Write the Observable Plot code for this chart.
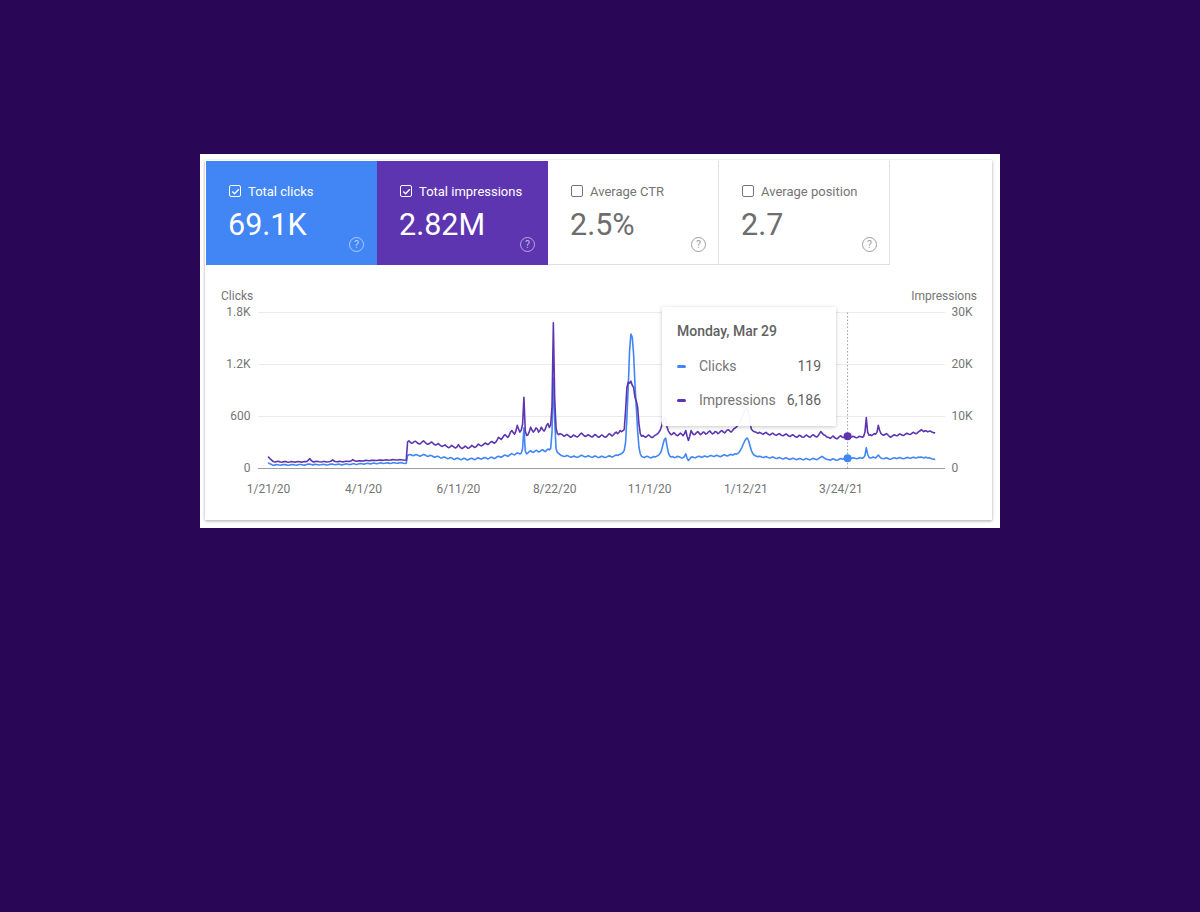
<!DOCTYPE html>
<html>
<head>
<meta charset="utf-8">
<script src="https://cdn.jsdelivr.net/npm/d3@7"></script>
<script src="https://cdn.jsdelivr.net/npm/@observablehq/plot@0.6"></script>
<style>
  html, body { margin: 0; padding: 0; }
  body { width: 1200px; height: 912px; background: #2a0656; position: relative; overflow: hidden; font-family: Roboto, "Noto Sans", sans-serif; }
  .sheet { position: absolute; left: 200px; top: 154px; width: 800px; height: 374px; background: #fff; }
  .card { position: absolute; left: 205px; top: 160px; width: 787px; height: 360px; background: #fff; box-shadow: 0 1px 3px rgba(0,0,0,0.35); }
  .tile { position: absolute; top: 161px; width: 171px; height: 104px; box-sizing: border-box; }
  .tile .lbl { position: absolute; left: 42px; top: 23px; font-size: 13px; line-height: 16px; }
  .tile .cb { position: absolute; left: 23px; top: 24px; width: 12px; height: 12px; box-sizing: border-box; border-radius: 2px; }
  .tile .val { position: absolute; left: 22px; top: 46px; font-size: 30.5px; line-height: 36px; }
  .tile .help { position: absolute; left: 143px; top: 76px; width: 15px; height: 15px; box-sizing: border-box; border-radius: 50%; font-size: 10.5px; line-height: 13px; text-align: center; }
  .on { color: #fff; }
  .on .cb { border: 1.5px solid #fff; }
  .on .help { border: 1.3px solid rgba(255,255,255,0.55); color: rgba(255,255,255,0.65); }
  .off { color: #757575; background: #fff; border-right: 1px solid #e0e0e0; border-bottom: 1px solid #e0e0e0; }
  .off .cb { border: 1.3px solid #757575; }
  .off .val { color: #6d6d6d; }
  .off .help { border: 1.3px solid #9e9e9e; color: #9e9e9e; }
  #chart { position: absolute; left: 205px; top: 280px; }
  .axlbl { position: absolute; font-size: 12px; color: #757575; top: 289px; }
  .tip { position: absolute; left: 662px; top: 307px; width: 174px; height: 119px; background: rgba(255,255,255,0.95); box-shadow: 0 1px 4px rgba(0,0,0,0.22); border-radius: 2px; color: #616161; }
  .tip .t { position: absolute; left: 15px; top: 16px; font-size: 14px; font-weight: 500; color: #616161; }
  .tip .row { position: absolute; left: 15px; width: 144px; font-size: 14px; height: 18px; line-height: 18px; }
  .tip .sw { position: absolute; left: 0; top: 8px; width: 9px; height: 3px; border-radius: 1.5px; }
  .tip .nm { position: absolute; left: 22px; top: 0; color: #757575; }
  .tip .v { position: absolute; right: 0; top: 0; color: #616161; }
</style>
</head>
<body>
<div class="sheet"></div>
<div class="card"></div>
<div id="tiles"></div>
<div class="axlbl" style="left:221px;">Clicks</div>
<div class="axlbl" style="right:223px;text-align:right;">Impressions</div>
<div id="chart"></div>
<div id="tip" class="tip"></div>
<script>
// ---------- data ----------
const startDate = "2020-01-21";            // first day of daily series
const hoverDay = "2021-03-29";
const hoverLabel = "Monday, Mar 29";

const tileLabels = ["Total clicks", "Total impressions", "Average CTR", "Average position"];
const tileValues = ["69.1K", "2.82M", "2.5%", "2.7"];
const tileColors = ["#4285f4", "#5e35b1", null, null];

const seriesNames = ["Clicks", "Impressions"];
const seriesColors = ["#4285f4", "#5e35b1"];

const clickTicks = [0, 600, 1200, 1800];
const impressionTicks = [0, 10000, 20000, 30000];
const dateTicks = ["2020-01-21", "2020-04-01", "2020-06-11", "2020-08-22", "2020-11-01", "2021-01-12", "2021-03-24"];

// daily clicks
const clicks = [
62,55,48,40,36,42,45,44,40,38,
42,46,45,43,39,37,41,45,47,44,
40,38,43,47,46,44,41,39,44,48,
52,50,46,42,45,48,47,44,40,43,
47,49,46,42,40,44,48,52,50,46,
43,47,50,49,45,42,46,50,53,51,
47,45,50,55,54,50,47,51,55,57,
54,50,53,58,60,57,53,55,60,62,
58,55,58,63,65,61,57,60,64,66,
62,58,61,66,67,63,60,62,67,68,
64,60,58,62,150,158,162,155,148,152,
160,158,150,143,146,155,162,156,147,140,
145,152,148,138,130,134,142,139,128,120,
125,133,130,120,112,118,126,122,110,104,
112,120,117,106,100,108,118,114,104,98,
106,115,118,110,102,108,120,123,115,108,
114,124,126,118,110,117,128,130,122,116,
124,136,142,135,128,138,150,155,146,140,
152,165,172,163,156,170,180,176,168,175,
230,470,200,168,180,195,205,192,185,198,
210,204,190,196,210,218,202,195,212,225,
215,232,420,1050,560,230,185,175,160,150,
145,138,142,150,146,137,130,134,143,140,
132,128,136,145,152,146,138,132,140,148,
142,134,129,135,144,140,131,126,133,142,
138,130,127,134,143,146,139,133,140,150,
156,150,158,165,172,185,210,300,590,940,
1360,1550,1515,1320,980,710,440,245,170,140,
132,126,135,142,136,128,122,130,138,133,
140,148,158,175,215,280,335,350,260,180,
145,132,138,130,125,134,140,136,128,120,
125,138,170,120,92,110,130,134,128,124,
130,138,142,135,128,136,145,140,133,138,
146,150,143,137,144,152,148,140,136,145,
152,158,150,144,150,160,162,155,160,170,
165,175,190,215,245,280,315,340,352,320,
265,210,175,155,148,140,135,142,138,130,
126,132,138,130,124,120,128,134,126,118,
115,122,128,120,113,110,118,124,116,108,
104,112,118,114,106,102,110,116,112,105,
100,108,115,110,104,100,108,117,113,106,
102,110,122,132,140,128,115,110,104,100,
96,104,112,106,98,95,102,110,115,108,
112,118,122,119,115,112,118,124,120,116,
112,118,125,122,118,126,150,240,165,130,
120,125,132,126,120,138,155,135,122,116,
112,118,124,118,110,106,112,120,124,118,
114,120,126,122,115,112,118,125,128,122,
118,124,130,126,120,125,132,128,134,126,
122,130,128,120,125,118,112,108,105
];

// daily impressions
const impressions = [
2200,1900,1700,1450,1300,1250,1350,1380,1320,1250,
1200,1280,1350,1320,1250,1200,1260,1330,1300,1250,
1220,1280,1340,1310,1260,1230,1290,1350,1320,1400,
1650,1900,1500,1320,1280,1330,1380,1340,1290,1250,
1300,1360,1340,1280,1250,1290,1350,1450,1650,1420,
1330,1290,1320,1380,1350,1300,1280,1340,1400,1380,
1340,1370,1480,1700,1550,1420,1400,1460,1500,1470,
1430,1460,1520,1560,1530,1490,1510,1560,1600,1570,
1530,1550,1600,1640,1610,1570,1590,1640,1680,1650,
1600,1620,1660,1700,1680,1640,1620,1650,1700,1690,
1650,1620,1600,1640,5100,5300,5050,4850,4950,5200,
5250,5000,4800,4700,4900,5150,5300,5050,4800,4650,
4750,4950,5100,4850,4600,4500,4650,4800,4550,4350,
4250,4400,4550,4300,4100,4000,4200,4450,4250,4050,
3950,4150,4600,4200,3950,3850,4050,4300,4150,3900,
3950,4150,4450,4250,4050,4150,4400,4700,4500,4350,
4450,4700,4900,4750,4600,4800,5050,5200,5000,4850,
5100,5500,6000,5800,5600,5900,6300,6500,6200,6000,
6400,7000,7300,6900,6600,7200,8300,7600,7000,7400,
8500,13700,7200,6350,6500,7100,7950,7400,7000,7300,
7800,7600,7000,7300,7950,7500,7200,7600,8300,8650,
7900,8400,12000,28000,13500,7800,6700,6500,6700,6600,
6400,6200,6350,6550,6400,6150,6000,6150,6450,6300,
6150,6050,6300,6600,6800,6550,6300,6150,6300,6500,
6350,6150,6050,6250,6550,6400,6150,6000,6200,6450,
6350,6100,6000,6200,6500,6700,6450,6250,6500,6800,
7000,6700,6900,7300,7100,7250,7500,11150,15600,16600,
16400,16800,16000,15600,13700,13000,11800,8600,6700,6200,
6350,6150,6000,6200,6450,6300,6050,5950,6150,6400,
6500,6700,7000,7400,8200,9300,9800,9400,8000,7200,
6800,6500,6600,6900,6700,6400,6300,6550,6800,6600,
6300,6700,7300,6200,5400,6200,7300,6800,6500,6600,
6900,7100,6800,6500,6700,7000,6900,6600,6750,7050,
7200,6900,6650,6800,7100,7000,6700,6850,7150,7300,
7050,6850,7100,7400,7450,7200,7000,7300,7650,7800,
8000,8300,8700,9200,9800,10500,11100,11400,11500,10600,
9000,7600,7300,7100,7000,6900,6750,6950,6850,6700,
6600,6800,6950,6700,6550,6450,6650,6800,6600,6450,
6400,6600,6700,6500,6350,6300,6500,6650,6450,6250,
6150,6350,6500,6300,6100,6000,6200,6400,6250,6050,
6000,6200,6450,6300,6100,6000,6250,6500,6350,6150,
6050,6300,6700,7100,6800,6500,6400,6200,6000,5950,
5800,6000,6250,6050,5800,5700,5900,6150,6300,6000,
5950,6100,6250,6186,6000,5950,6050,6200,6100,5950,
5900,6050,6200,6100,6000,6150,7000,9800,7000,6400,
6500,6300,6500,6700,6600,7000,8300,7300,6700,6500,
6400,6550,6700,6500,6250,6000,6150,6350,6500,6350,
6300,6450,6650,6550,6400,6350,6550,6750,6700,6600,
6550,6750,6950,6850,6700,6800,7050,7200,7450,7300,
7100,7250,7200,7050,7150,7200,7000,6900,6850
];

// ---------- build ----------
const DAY = 86400000;
const t0 = new Date(startDate + "T00:00:00Z").getTime();
const rows = clicks.map((c, i) => ({date: new Date(t0 + i * DAY), clicks: c, impressions: impressions[i]}));
const clickMax = clickTicks[clickTicks.length - 1];
const impMax = impressionTicks[impressionTicks.length - 1];
const k = clickMax / impMax; // map impressions onto the clicks axis
const hover = rows.find(r => +r.date === +new Date(hoverDay + "T00:00:00Z"));

// tiles
const tilesEl = document.getElementById("tiles");
tileLabels.forEach((lab, i) => {
  const d = document.createElement("div");
  const on = !!tileColors[i];
  d.className = "tile " + (on ? "on" : "off");
  d.style.left = (206 + i * 171) + "px";
  if (on) d.style.background = tileColors[i];
  d.innerHTML =
    `<div class="cb">${on ? '<svg width="9" height="9" viewBox="0 0 9 9" style="position:absolute;left:0.5px;top:0.5px"><path d="M1.3 4.6 L3.6 6.8 L7.8 2.2" fill="none" stroke="#fff" stroke-width="1.4"/></svg>' : ''}</div>` +
    `<div class="lbl">${lab}</div><div class="val">${tileValues[i]}</div><div class="help">?</div>`;
  tilesEl.appendChild(d);
});

const fmtDate = d3.utcFormat("%-m/%-d/%y");
const chart = Plot.plot({
  width: 787,
  height: 230,
  marginLeft: 53,
  marginRight: 47,
  marginTop: 32,
  marginBottom: 42,
  style: {fontFamily: "Roboto, sans-serif", fontSize: "12px", color: "#757575", background: "transparent", overflow: "visible"},
  x: {type: "utc", domain: [rows[0].date, rows[rows.length - 1].date], insetLeft: 10, insetRight: 11},
  y: {domain: [0, clickMax]},
  marks: [
    Plot.gridY(clickTicks.slice(1), {stroke: "#ebebeb", strokeOpacity: 1}),
    Plot.ruleY([0], {stroke: "#9e9e9e"}),
    Plot.axisY(clickTicks, {anchor: "left", tickSize: 0, tickPadding: 8, label: null,
      tickFormat: d => d >= 1000 ? (d / 1000) + "K" : String(d)}),
    Plot.axisY(impressionTicks.map(v => v * k), {anchor: "right", tickSize: 0, tickPadding: 6, label: null, textAnchor: "start",
      tickFormat: d => { const v = Math.round(d / k); return v >= 1000 ? (v / 1000) + "K" : String(v); }}),
    Plot.axisX(dateTicks.map(s => new Date(s + "T00:00:00Z")), {anchor: "bottom", tickSize: 0, tickPadding: 16, label: null, tickFormat: fmtDate}),
    Plot.ruleX([hover.date], {y1: 0, y2: clickMax, stroke: "#9e9e9e", strokeDasharray: "1.5,2", strokeWidth: 1}),
    Plot.line(rows, {x: "date", y: "clicks", stroke: seriesColors[0], strokeWidth: 1.6}),
    Plot.line(rows, {x: "date", y: d => d.impressions * k, stroke: seriesColors[1], strokeWidth: 1.6}),
    Plot.dot([hover], {x: "date", y: "clicks", r: 4, fill: seriesColors[0]}),
    Plot.dot([hover], {x: "date", y: d => d.impressions * k, r: 4, fill: seriesColors[1]})
  ]
});
document.getElementById("chart").appendChild(chart);

// tooltip
const tip = document.getElementById("tip");
tip.innerHTML = `<div class="t">${hoverLabel}</div>` +
  `<div class="row" style="top:50px"><div class="sw" style="background:${seriesColors[0]}"></div><div class="nm">${seriesNames[0]}</div><div class="v">${d3.format(",")(hover.clicks)}</div></div>` +
  `<div class="row" style="top:84px"><div class="sw" style="background:${seriesColors[1]}"></div><div class="nm">${seriesNames[1]}</div><div class="v">${d3.format(",")(hover.impressions)}</div></div>`;
</script>
</body>
</html>
